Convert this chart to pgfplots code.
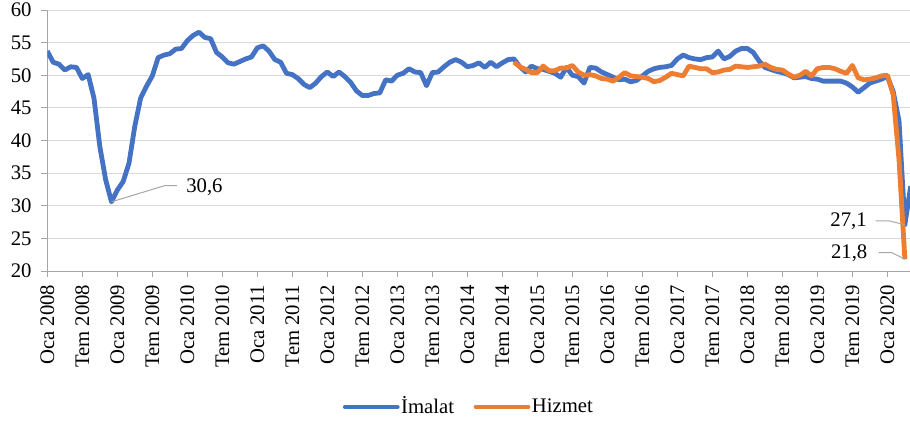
\documentclass[border=0pt]{standalone}
\usepackage{fontspec}
\setmainfont{Liberation Serif}
\newfontfamily\chartserif{Liberation Serif}
\usepackage{pgfplots}
\usepackage{pgfplotstable}
\pgfplotsset{compat=1.18}
\definecolor{imalatc}{HTML}{4472C4}
\definecolor{hizmetc}{HTML}{ED7D31}
\definecolor{gridc}{HTML}{D9D9D9}
\definecolor{axc}{HTML}{A6A6A6}
\newcommand{\chartfont}{\chartserif\fontsize{20.8pt}{25pt}\selectfont}

\pgfplotstableread{
m v
0 53.7
1 52.0
2 51.7
3 50.8
4 51.3
5 51.2
6 49.5
7 50.1
8 46.5
9 39.1
10 34.0
11 30.6
12 32.4
13 33.7
14 36.5
15 42.2
16 46.5
17 48.3
18 49.9
19 52.7
20 53.1
21 53.3
22 54.0
23 54.1
24 55.3
25 56.1
26 56.6
27 55.8
28 55.6
29 53.5
30 52.8
31 51.9
32 51.7
33 52.1
34 52.5
35 52.8
36 54.2
37 54.5
38 53.7
39 52.4
40 52.0
41 50.3
42 50.1
43 49.5
44 48.6
45 48.1
46 48.8
47 49.8
48 50.5
49 49.8
50 50.5
51 49.8
52 48.9
53 47.6
54 46.9
55 46.9
56 47.2
57 47.3
58 49.3
59 49.1
60 50.0
61 50.3
62 51.0
63 50.5
64 50.4
65 48.4
66 50.4
67 50.5
68 51.3
69 52.0
70 52.4
71 52.0
72 51.3
73 51.5
74 51.9
75 51.2
76 52.0
77 51.3
78 51.9
79 52.4
80 52.5
81 51.3
82 50.5
83 51.4
84 51.0
85 50.9
86 50.6
87 50.3
88 49.7
89 51.2
90 50.0
91 49.8
92 48.8
93 51.2
94 51.1
95 50.5
96 50.1
97 49.7
98 49.3
99 49.4
100 49.0
101 49.2
102 49.9
103 50.6
104 51.0
105 51.2
106 51.3
107 51.5
108 52.5
109 53.1
110 52.7
111 52.5
112 52.4
113 52.7
114 52.8
115 53.7
116 52.5
117 52.9
118 53.7
119 54.1
120 54.1
121 53.5
122 52.2
123 51.2
124 50.9
125 50.6
126 50.4
127 50.1
128 49.6
129 49.7
130 49.8
131 49.5
132 49.4
133 49.1
134 49.1
135 49.1
136 49.1
137 48.8
138 48.2
139 47.4
140 48.1
141 48.8
142 49.1
143 49.4
144 49.8
145 47.5
146 43.0
147 27.1
148 33.0
}\imalatdata

\pgfplotstableread{
m v
80 52.0
81 51.3
82 50.9
83 50.4
84 50.4
85 51.4
86 50.7
87 50.7
88 51.1
89 51.1
90 51.5
91 50.5
92 50.0
93 50.1
94 49.9
95 49.5
96 49.4
97 49.1
98 49.7
99 50.4
100 49.9
101 49.8
102 49.7
103 49.5
104 49.0
105 49.2
106 49.7
107 50.3
108 50.1
109 49.9
110 51.4
111 51.2
112 51.0
113 51.0
114 50.4
115 50.5
116 50.8
117 50.9
118 51.4
119 51.3
120 51.2
121 51.3
122 51.4
123 51.7
124 51.2
125 50.9
126 50.8
127 50.2
128 49.7
129 50.0
130 50.6
131 49.9
132 51.0
133 51.2
134 51.2
135 51.0
136 50.6
137 50.3
138 51.5
139 49.6
140 49.3
141 49.4
142 49.6
143 49.9
144 50.0
145 47.0
146 37.0
147 21.8
}\hizmetdata

\begin{document}
\chartfont
\begin{tikzpicture}[font=\chartfont]
\path[use as bounding box] (-47.3bp,-151bp) rectangle (862.7bp,271bp);
\begin{axis}[
  scale only axis,
  width=863.4bp, height=261bp,
  xmin=0, xmax=148, ymin=20, ymax=60,
  axis x line*=bottom, axis y line*=left,
  axis line style={draw=axc, line width=1bp, -},
  ytick={20,25,...,60},
  xtick={0,6,...,144},
  xticklabels={Oca 2008,Tem 2008,Oca 2009,Tem 2009,Oca 2010,Tem 2010,Oca 2011,Tem 2011,Oca 2012,Tem 2012,Oca 2013,Tem 2013,Oca 2014,Tem 2014,Oca 2015,Tem 2015,Oca 2016,Tem 2016,Oca 2017,Tem 2017,Oca 2018,Tem 2018,Oca 2019,Tem 2019,Oca 2020},
  ymajorgrids,
  grid style={draw=gridc, line width=1bp},
  tick align=outside,
  major tick length=6bp,
  tick style={draw=axc, line width=1bp},
  tick label style={font=\chartfont},
  xticklabel style={rotate=90, anchor=east, inner sep=7.5bp},
  yticklabel style={anchor=east, inner sep=9.5bp},
  /pgf/number format/assume math mode=true,
  legend columns=2,
  legend style={at={(0.488,-0.521)}, anchor=center, draw=none, fill=none,
    font=\chartfont,
    /tikz/every even column/.append style={column sep=18bp},
    nodes={inner sep=1.5bp}},
  legend image code/.code={\draw[#1, line cap=round] (0bp,0bp) -- (52bp,0bp);},
]
\addplot[imalatc, line width=4.8bp, line join=round] table[x=m,y=v]{\imalatdata};
\addlegendentry{İmalat}
\addplot[hizmetc, line width=4.8bp, line join=round] table[x=m,y=v]{\hizmetdata};
\addlegendentry{Hizmet}
\draw[axc, line width=1bp] (axis cs:11,30.6) -- (axis cs:20.2,33.1) -- (axis cs:22.2,33.1);
\node[anchor=west, inner sep=0pt] at (axis cs:23.8,32.9) {30,6};
\draw[axc, line width=1bp] (axis cs:147,27.1) -- (axis cs:144.2,27.7) -- (axis cs:142.0,27.7);
\node[anchor=east, inner sep=0pt] at (axis cs:140.5,27.6) {27,1};
\draw[axc, line width=1bp] (axis cs:147,21.8) -- (axis cs:144.8,22.8) -- (axis cs:142.5,22.8);
\node[anchor=east, inner sep=0pt] at (axis cs:140.6,22.7) {21,8};
\end{axis}
\end{tikzpicture}
\end{document}
